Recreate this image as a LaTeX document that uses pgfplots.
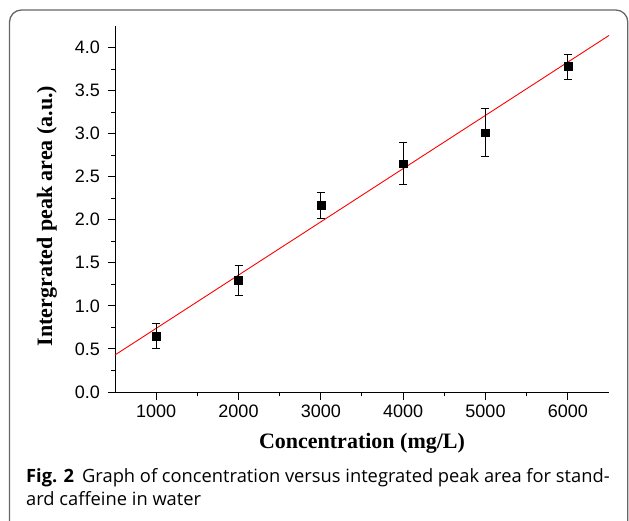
\documentclass[border=0pt]{standalone}
\usepackage{fontspec}
\setmainfont{Liberation Sans}
\newfontfamily\labelfont{Liberation Serif}
\newfontfamily\capfont{Open Sans}
\usepackage{pgfplots}
\pgfplotsset{compat=1.18}
\begin{document}
\begin{tikzpicture}[x=1pt,y=1pt]
\useasboundingbox (0,0) rectangle (629,520);
\begin{scope}
\clip (0,0) rectangle (629,520);
\draw[color=black!60, line width=1.3pt, rounded corners=12pt] (9.5,-30) -- (9.5,510) -- (627.8,510) -- (627.8,-30);
\end{scope}
\begin{axis}[
  at={(115pt,128pt)}, anchor=south west,
  scale only axis, width=494pt, height=366pt,
  xmin=500, xmax=6500, ymin=0, ymax=4.25,
  axis lines*=left,
  axis line style={line width=1pt,-},
  xtick={1000,2000,3000,4000,5000,6000},
  ytick={0,0.5,1,1.5,2,2.5,3,3.5,4},
  minor x tick num=1, minor y tick num=1,
  tick align=outside,
  major tick length=7.5pt, minor tick length=4pt,
  tick style={line width=1pt, black},
  /pgf/number format/assume math mode=true,
  ticklabel style={font=\fontsize{18}{20}\selectfont},
  xticklabel style={/pgf/number format/1000 sep={}, yshift=-2pt},
  yticklabel style={/pgf/number format/fixed, /pgf/number format/fixed zerofill, /pgf/number format/precision=1, xshift=-4pt},
  scaled x ticks=false,
  xlabel={\labelfont\bfseries Concentration (mg/L)},
  ylabel={\labelfont\bfseries Intergrated peak area (a.u.)},
  label style={font=\fontsize{22}{24}\selectfont},
  xlabel style={at={(axis description cs:0.5,-0.153)}, anchor=base},
  ylabel style={at={(axis description cs:-0.1377,0.481)}, anchor=center},
  clip=false,
]
\addplot[red, line width=0.9pt] coordinates {(500,0.43) (6500,4.14)};
\addplot[only marks, mark=square*, mark size=3.9pt, black,
  error bars/.cd, y dir=both, y explicit,
  error bar style={line width=0.9pt, black},
  error mark options={rotate=90, mark size=4pt, line width=0.9pt, black}]
  coordinates {
  (1000,0.65) +- (0,0.15)
  (2000,1.30) +- (0,0.175)
  (3000,2.17) +- (0,0.15)
  (4000,2.65) +- (0,0.245)
  (5000,3.01) +- (0,0.28)
  (6000,3.78) +- (0,0.145)
  };
\end{axis}
\node[anchor=base west, inner sep=0pt, font=\capfont\fontsize{18.3}{20}\selectfont] at (26,38) {\textbf{Fig. 2}\hspace{8pt}Graph of concentration versus integrated peak area for stand-};
\node[anchor=base west, inner sep=0pt, font=\capfont\fontsize{18.3}{20}\selectfont] at (26,15) {ard caffeine in water};
\end{tikzpicture}
\end{document}
